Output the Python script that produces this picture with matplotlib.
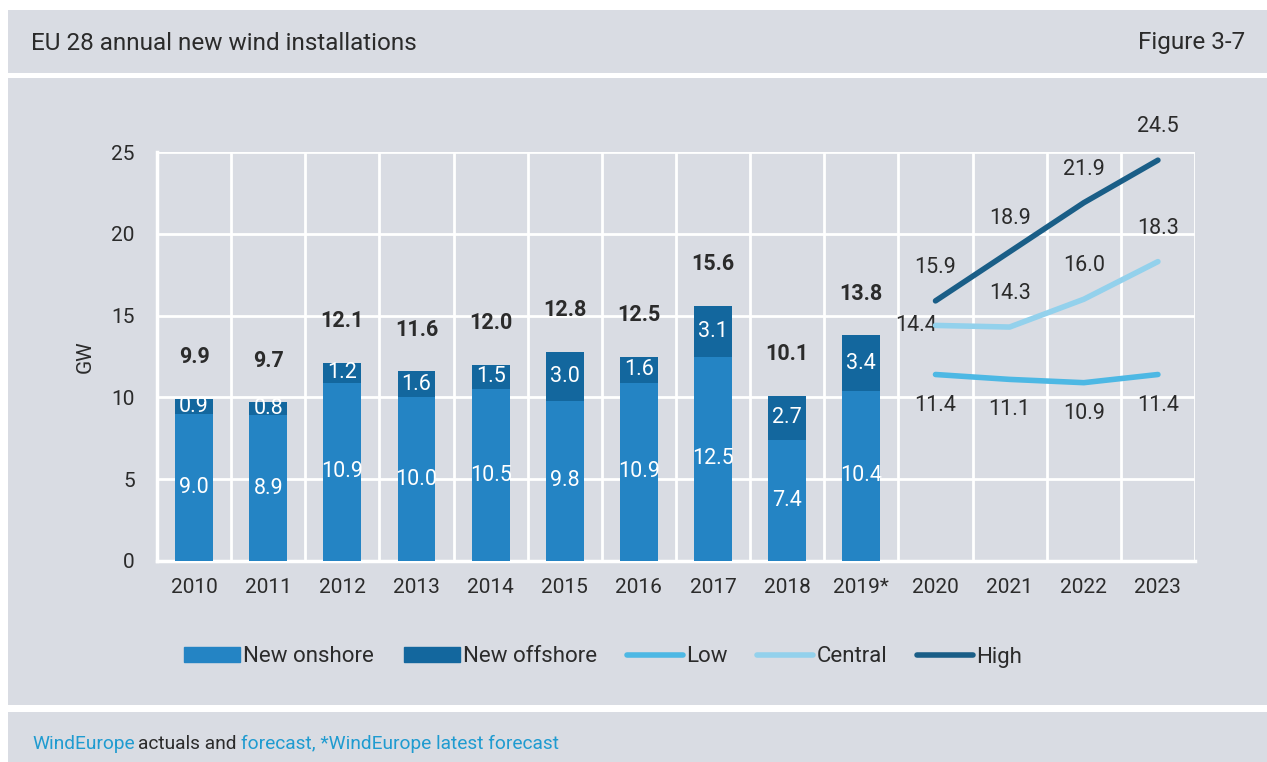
import matplotlib
matplotlib.use("Agg")
import matplotlib.pyplot as plt
from matplotlib.patches import Rectangle

plt.rcParams['font.family'] = ['Roboto', 'DejaVu Sans']

# ------------------------------------------------------------------
# Data
# ------------------------------------------------------------------
years = ["2010", "2011", "2012", "2013", "2014", "2015", "2016", "2017",
         "2018", "2019*", "2020", "2021", "2022", "2023"]
onshore = [9.0, 8.9, 10.9, 10.0, 10.5, 9.8, 10.9, 12.5, 7.4, 10.4]
offshore = [0.9, 0.8, 1.2, 1.6, 1.5, 3.0, 1.6, 3.1, 2.7, 3.4]
totals = [9.9, 9.7, 12.1, 11.6, 12.0, 12.8, 12.5, 15.6, 10.1, 13.8]

low = [11.4, 11.1, 10.9, 11.4]
central = [14.4, 14.3, 16.0, 18.3]
high = [15.9, 18.9, 21.9, 24.5]

# colours
bg = "#d9dce3"
c_on = "#2484c4"
c_off = "#13679e"
c_low = "#4db8e4"
c_central = "#93d1ec"
c_high = "#1a5e87"
txt = "#2b2b2b"
link = "#1f9bd0"

fig = plt.figure(figsize=(12.67, 7.62), dpi=100, facecolor="white")

# background bands (header / chart / footer)
W, H = 1267, 762
def band(y0, y1):
    fig.patches.append(Rectangle((8 / W, 1 - y1 / H), 1 - 8 / W, (y1 - y0) / H,
                                 transform=fig.transFigure, facecolor=bg,
                                 edgecolor="none", zorder=-10))
band(10, 73)
band(78, 705)
band(712, 762)

fig.text(31 / W, 1 - 43 / H, "EU 28 annual new wind installations",
         fontsize=17.5, color=txt, va="center", ha="left")
fig.text(1245 / W, 1 - 43 / H, "Figure 3-7",
         fontsize=17.5, color=txt, va="center", ha="right")

ax = fig.add_axes([157 / W, 1 - 561 / H, (1195 - 157) / W, (561 - 152) / H])
ax.set_facecolor(bg)

x_bars = list(range(len(onshore)))
x_lines = list(range(len(onshore), len(years)))

ax.bar(x_bars, onshore, width=0.51, color=c_on, zorder=3)
ax.bar(x_bars, offshore, bottom=onshore, width=0.51, color=c_off, zorder=3)

ax.plot(x_lines, low, color=c_low, lw=4, solid_capstyle="round", zorder=4, label="Low")
ax.plot(x_lines, central, color=c_central, lw=4, solid_capstyle="round", zorder=4, label="Central")
ax.plot(x_lines, high, color=c_high, lw=4, solid_capstyle="round", zorder=4, label="High")

# bar labels
for i in x_bars:
    ax.text(i, onshore[i] / 2, f"{onshore[i]:.1f}", color="white", fontsize=15.5,
            ha="center", va="center", zorder=5)
    ax.text(i, onshore[i] + offshore[i] / 2, f"{offshore[i]:.1f}", color="white",
            fontsize=15.5, ha="center", va="center", zorder=5)
    ax.annotate(f"{totals[i]:.1f}", (i, totals[i]), xytext=(0, 30),
                textcoords="offset points", fontsize=15.5, fontweight="bold",
                color=txt, ha="center", va="center", zorder=5)

# line labels
for j, x in enumerate(x_lines):
    ax.annotate(f"{high[j]:.1f}", (x, high[j]), xytext=(0, 24),
                textcoords="offset points", fontsize=15.5, color=txt,
                ha="center", va="center")
    ax.annotate(f"{low[j]:.1f}", (x, low[j]), xytext=(0, -22),
                textcoords="offset points", fontsize=15.5, color=txt,
                ha="center", va="center")
    if j == 0:
        ax.annotate(f"{central[j]:.1f}", (x, central[j]), xytext=(-14, 0),
                    textcoords="offset points", fontsize=15.5, color=txt,
                    ha="center", va="center")
    else:
        ax.annotate(f"{central[j]:.1f}", (x, central[j]), xytext=(0, 24),
                    textcoords="offset points", fontsize=15.5, color=txt,
                    ha="center", va="center")

ax.set_xlim(-0.5, len(years) - 0.5)
ax.set_ylim(0, 25)
ax.set_yticks([0, 5, 10, 15, 20, 25])
ax.set_xticks(range(len(years)))
ax.set_xticklabels(years)
ax.set_xticks([k - 0.5 for k in range(len(years) + 1)], minor=True)
ax.tick_params(axis="both", which="both", length=0, labelsize=15, colors=txt)
ax.tick_params(axis="x", pad=12)
ax.tick_params(axis="y", pad=16)
ax.grid(axis="y", which="major", color="white", lw=2, zorder=0)
ax.grid(axis="x", which="minor", color="white", lw=2, zorder=0)
for s in ["top", "right"]:
    ax.spines[s].set_visible(False)
for s in ["left", "bottom"]:
    ax.spines[s].set_color("white")
    ax.spines[s].set_linewidth(2.5)
ax.set_ylabel("GW", fontsize=15, color=txt, labelpad=12)

# legend
handles = [Rectangle((0, 0), 1, 1, color=c_on), Rectangle((0, 0), 1, 1, color=c_off)]
handles += ax.get_lines()
labels = ["New onshore", "New offshore", "Low", "Central", "High"]
fig.legend(handles, labels, loc="center", bbox_to_anchor=(603 / W, 1 - 657 / H),
           ncol=5, frameon=False, fontsize=16, handlelength=2.5, handleheight=0.65,
           handletextpad=0.15, columnspacing=1.35, labelcolor=txt)

# footer
fy = 1 - 744 / H
fs = 13.8
t1 = fig.text(32 / W, fy, "WindEurope", fontsize=fs, color=link, va="center")
fig.canvas.draw()
r = fig.canvas.get_renderer()
bb = t1.get_window_extent(r)
t2 = fig.text(bb.x1 / W + 0.003, fy, "actuals and", fontsize=fs, color=txt, va="center")
bb = t2.get_window_extent(r)
fig.text(bb.x1 / W + 0.003, fy, "forecast, *WindEurope latest forecast",
         fontsize=fs, color=link, va="center")

fig.savefig("out.png", dpi=100, facecolor="white")
